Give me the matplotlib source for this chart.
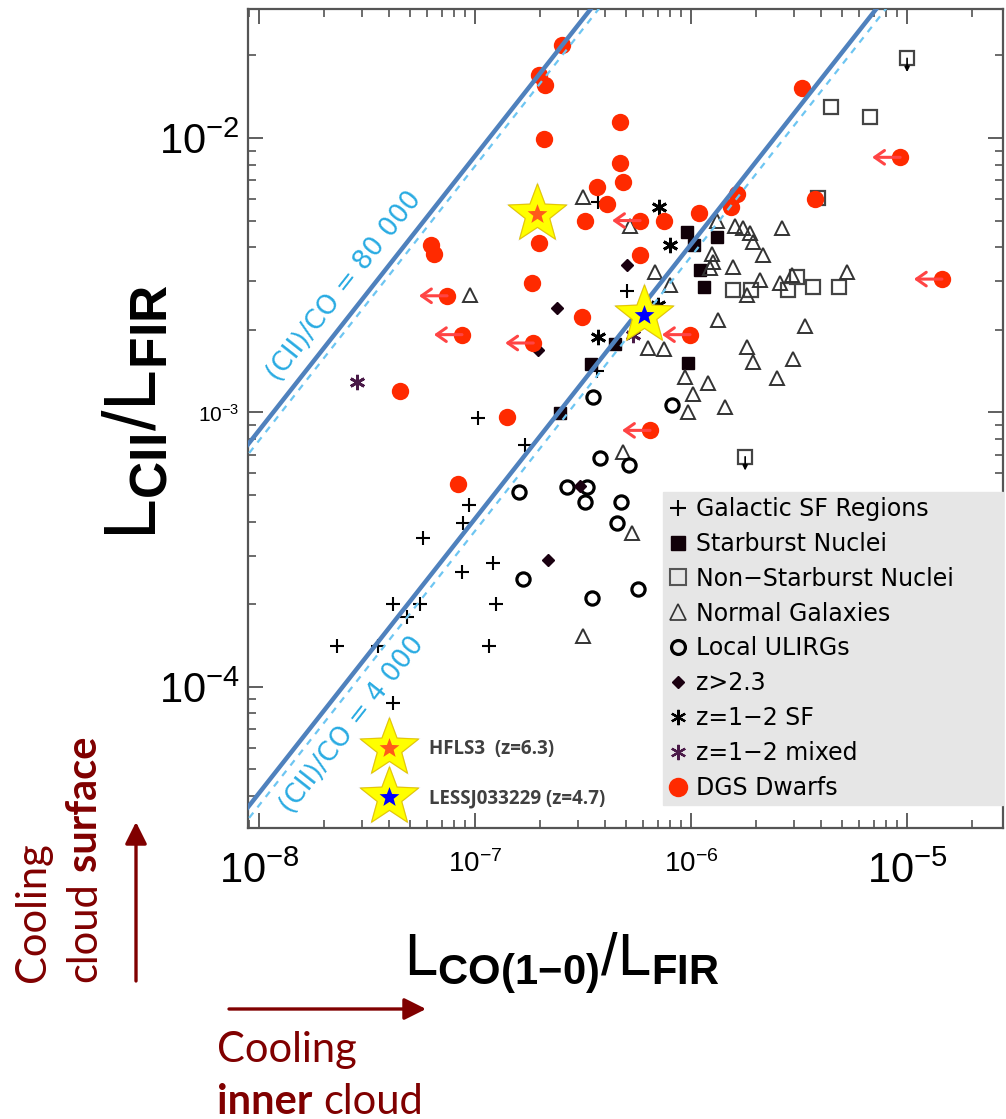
import numpy as np
import matplotlib
matplotlib.use('Agg')
import matplotlib.pyplot as plt
from matplotlib.lines import Line2D
from matplotlib.path import Path
from matplotlib.ticker import FixedLocator, LogLocator, NullFormatter

plt.rcParams['mathtext.fontset'] = 'custom'
plt.rcParams['mathtext.rm'] = 'Liberation Sans'
plt.rcParams['mathtext.bf'] = 'Liberation Sans:bold'
plt.rcParams['mathtext.it'] = 'Liberation Sans:italic'
plt.rcParams['mathtext.sf'] = 'Liberation Sans'

# ---------------- data (L_CO/L_FIR, L_CII/L_FIR) ----------------
sf_x = [1.03e-7, 1.70e-7, 9.38e-8, 8.8e-8, 5.74e-8, 1.21e-7, 8.7e-8, 4.15e-8, 5.56e-8,
        4.84e-8, 1.25e-7, 2.29e-8, 3.54e-8, 1.16e-7, 4.15e-8, 5.05e-7, 3.67e-7, 3.71e-7]
sf_y = [9.55e-4, 7.62e-4, 4.60e-4, 3.96e-4, 3.49e-4, 2.83e-4, 2.62e-4, 2.00e-4, 2.00e-4,
        1.80e-4, 2.00e-4, 1.41e-4, 1.41e-4, 1.41e-4, 8.75e-5, 2.77e-3, 1.41e-3, 5.85e-3]

sb_x = [9.58e-7, 1.03e-6, 1.32e-6, 1.10e-6, 1.15e-6, 9.68e-7, 4.45e-7, 3.44e-7, 2.48e-7]
sb_y = [4.55e-3, 4.07e-3, 4.36e-3, 3.30e-3, 2.86e-3, 1.51e-3, 1.78e-3, 1.50e-3, 9.95e-4]

nsb_x = [4.45e-6, 6.74e-6, 3.87e-6, 1.56e-6, 1.90e-6, 2.81e-6, 3.67e-6, 4.84e-6, 3.10e-6]
nsb_y = [1.30e-2, 1.19e-2, 6.04e-3, 2.79e-3, 2.79e-3, 2.79e-3, 2.86e-3, 2.86e-3, 3.12e-3]
nsb_ul_x = [1.0e-5, 1.78e-6]
nsb_ul_y = [1.95e-2, 6.89e-4]

ng_x = [9.48e-8, 3.16e-7, 5.22e-7, 6.81e-7, 8.0e-7, 1.32e-6, 1.60e-6, 1.74e-6, 1.88e-6,
        1.94e-6, 2.15e-6, 2.64e-6, 1.25e-6, 1.26e-6, 1.22e-6, 1.56e-6, 2.09e-6, 2.58e-6,
        2.94e-6, 5.27e-6, 1.82e-6, 1.33e-6, 3.37e-6, 1.82e-6, 1.94e-6, 2.97e-6, 6.32e-7,
        7.50e-7, 9.38e-7, 1.20e-6, 2.50e-6, 1.02e-6, 9.68e-7, 1.44e-6, 4.84e-7, 5.33e-7,
        3.16e-7]
ng_y = [2.68e-3, 6.10e-3, 4.78e-3, 3.25e-3, 2.91e-3, 4.99e-3, 4.78e-3, 4.70e-3, 4.51e-3,
        4.18e-3, 3.75e-3, 4.70e-3, 3.78e-3, 3.53e-3, 3.36e-3, 3.39e-3, 3.04e-3, 2.96e-3,
        3.17e-3, 3.25e-3, 2.68e-3, 2.17e-3, 2.07e-3, 1.73e-3, 1.53e-3, 1.57e-3, 1.72e-3,
        1.70e-3, 1.35e-3, 1.28e-3, 1.34e-3, 1.17e-3, 1.00e-3, 1.05e-3, 7.18e-4, 3.64e-4,
        1.53e-4]

ulirg_x = [3.52e-7, 3.79e-7, 5.16e-7, 1.60e-7, 2.67e-7, 3.30e-7, 3.23e-7, 4.74e-7, 4.54e-7,
           1.67e-7, 3.48e-7, 5.69e-7, 8.17e-7]
ulirg_y = [1.14e-3, 6.82e-4, 6.44e-4, 5.13e-4, 5.36e-4, 5.36e-4, 4.72e-4, 4.72e-4, 3.96e-4,
           2.47e-4, 2.11e-4, 2.28e-4, 1.06e-3]

hz_x = [5.05e-7, 2.40e-7, 1.96e-7, 2.18e-7, 3.06e-7]
hz_y = [3.44e-3, 2.40e-3, 1.69e-3, 2.90e-4, 5.40e-4]

zsf_x = [7.11e-7, 8.0e-7, 3.71e-7, 7.03e-7]
zsf_y = [5.61e-3, 4.07e-3, 1.88e-3, 2.46e-3]

zmix_x = [2.84e-8, 5.39e-7]
zmix_y = [1.29e-3, 1.92e-3]

dgs_x = [2.53e-7, 1.98e-7, 2.11e-7, 2.09e-7, 4.69e-7, 4.69e-7, 4.84e-7, 3.67e-7, 4.08e-7,
         3.23e-7, 1.98e-7, 1.84e-7, 6.25e-8, 6.46e-8, 3.13e-7, 5.81e-7, 7.50e-7, 1.09e-6,
         1.63e-6, 1.53e-6, 3.27e-6, 3.75e-6, 4.50e-8, 1.41e-7, 8.34e-8]
dgs_y = [2.18e-2, 1.69e-2, 1.56e-2, 9.9e-3, 1.14e-2, 8.1e-3, 6.9e-3, 6.6e-3, 5.75e-3,
         5.0e-3, 4.14e-3, 2.96e-3, 4.07e-3, 3.78e-3, 2.23e-3, 3.75e-3, 5.0e-3, 5.33e-3,
         6.25e-3, 5.6e-3, 1.52e-2, 6.0e-3, 1.2e-3, 9.6e-4, 5.5e-4]
dgs_ul_x = [7.42e-8, 8.7e-8, 1.86e-7, 5.81e-7, 9.89e-7, 6.46e-7, 9.29e-6, 1.45e-5]
dgs_ul_y = [2.66e-3, 1.92e-3, 1.79e-3, 5.0e-3, 1.92e-3, 8.6e-4, 8.5e-3, 3.06e-3]

hfls3_x, hfls3_y = 1.94e-7, 5.28e-3
less_x, less_y = 6.05e-7, 2.27e-3

ratio_solid = [86000, 4100]
ratio_dash = [79000, 3700]
ratio_labels = ['(CII)/CO = 80 000', '(CII)/CO = 4 000']

xticks = [1e-8, 1e-7, 1e-6, 1e-5]
xtick_labels = [r'$10^{-8}$', r'$10^{-7}$', r'$10^{-6}$', r'$10^{-5}$']
xtick_sizes = [30, 20, 20, 30]
yticks = [1e-4, 1e-3, 1e-2]
ytick_labels = [r'$10^{-4}$', r'$10^{-3}$', r'$10^{-2}$']
ytick_sizes = [30, 15, 30]

legend_labels = ['Galactic SF Regions', 'Starburst Nuclei', 'Non\u2212Starburst Nuclei',
                 'Normal Galaxies', 'Local ULIRGs', 'z>2.3', 'z=1\u22122 SF',
                 'z=1\u22122 mixed', 'DGS Dwarfs']

# ---------------- figure ----------------
W, H = 1006, 1119
fig = plt.figure(figsize=(W / 100, H / 100), dpi=100)
ax = fig.add_axes([248 / W, 1 - 828 / H, 755 / W, 819 / H])
ax.set_xscale('log')
ax.set_yscale('log')
ax.set_xlim(8.89e-9, 2.78e-5)
ax.set_ylim(3.06e-5, 2.95e-2)

RED = '#ff2a00'
ULRED = '#ff4444'

ax.plot(sf_x, sf_y, ls='none', marker='+', color='k', ms=10, mew=1.5, zorder=3)
ax.plot(sb_x, sb_y, ls='none', marker='s', color='#100008', ms=9, zorder=3)
ax.plot(nsb_x + nsb_ul_x, nsb_y + nsb_ul_y, ls='none', marker='s', mfc='none',
        mec='#444444', ms=10, mew=1.6, zorder=3)
for x, y in zip(nsb_ul_x, nsb_ul_y):
    ax.annotate('', xy=(x, y / 10 ** 0.05), xytext=(x, y),
                arrowprops=dict(arrowstyle='-|>', color='k', lw=1.2, mutation_scale=7,
                                shrinkA=0, shrinkB=0), zorder=3)
ax.plot(ng_x, ng_y, ls='none', marker='^', mfc='none', mec='#333333', ms=10, mew=1.4, zorder=3)
ax.plot(ulirg_x, ulirg_y, ls='none', marker='o', mfc='none', mec='k', ms=9.5, mew=2.3, zorder=3)
ax.plot(hz_x, hz_y, ls='none', marker='D', color='#1a0010', ms=6, zorder=3)
ax.plot(zsf_x, zsf_y, ls='none', marker=(6, 2, 0), color='k', ms=11, mew=2, zorder=3)
ax.plot(zmix_x, zmix_y, ls='none', marker=(6, 2, 0), color='#4a1a48', ms=11, mew=2, zorder=3)
ax.plot(dgs_x, dgs_y, ls='none', marker='o', color=RED, ms=12.5, mew=0, zorder=4)
ax.plot(dgs_ul_x, dgs_ul_y, ls='none', marker='o', color=RED, ms=12.5, mew=0, zorder=4)
for x, y in zip(dgs_ul_x, dgs_ul_y):
    ax.annotate('', xy=(x / 10 ** 0.13, y), xytext=(x, y),
                arrowprops=dict(arrowstyle='->,head_length=0.5,head_width=0.35', color=ULRED,
                                lw=2.2, shrinkA=0, shrinkB=0, mutation_scale=14), zorder=4)

# ratio lines
xl = np.array([1e-9, 1e-4])
for rs, rd in zip(ratio_solid, ratio_dash):
    ax.plot(xl, rd * xl, ls=(0, (3, 3)), color='#6ec6f2', lw=1.6, zorder=5)
    ax.plot(xl, rs * xl, ls='-', color='#4f81bd', lw=3.2, zorder=5)

ang = np.degrees(np.arctan(274.5 / 216))
ax.text((345 - 248) / 755, (828 - 286) / 819, ratio_labels[0], transform=ax.transAxes,
        rotation=ang, rotation_mode='anchor', ha='center', va='center',
        fontsize=19, color='#29abe2', family='DejaVu Sans', zorder=6)
ax.text((352 - 248) / 755, (828 - 725) / 819, ratio_labels[1], transform=ax.transAxes,
        rotation=ang, rotation_mode='anchor', ha='center', va='center',
        fontsize=19, color='#29abe2', family='DejaVu Sans', zorder=6)

# fatter 5-point star (PowerPoint-like)
ang5 = np.pi / 2 + np.arange(10) * np.pi / 5
rad5 = np.where(np.arange(10) % 2 == 0, 1.0, 0.42)
verts = np.column_stack([rad5 * np.cos(ang5), rad5 * np.sin(ang5)])
verts = np.vstack([verts, verts[:1]])
STAR = Path(verts, [Path.MOVETO] + [Path.LINETO] * 9 + [Path.CLOSEPOLY])

def star(axx, x, y, inner, transform=None):
    kw = {} if transform is None else {'transform': transform}
    axx.plot([x], [y], marker=STAR, ms=47, color='#9a9a9a', alpha=0.35, mew=0, zorder=7,
             ls='none', **kw)
    axx.plot([x], [y], marker=STAR, ms=44, mfc='#ffff00', mec='#e6c800', mew=0.8, zorder=8,
             ls='none', **kw)
    axx.plot([x], [y], marker=STAR, ms=15, color=inner, mew=0, zorder=9, ls='none', **kw)

star(ax, hfls3_x, hfls3_y, '#ff5a1a')
star(ax, less_x, less_y, '#0000ff')
star(ax, (389 - 248) / 755, (828 - 748) / 819, '#ff5a1a', transform=ax.transAxes)
star(ax, (389 - 248) / 755, (828 - 797) / 819, '#0000ff', transform=ax.transAxes)
ax.text((429 - 248) / 755, (828 - 749) / 819, 'HFLS3  (z=6.3)', transform=ax.transAxes,
        ha='left', va='center', fontsize=13.5, fontweight='bold', family='Open Sans',
        color='#404040', zorder=9)
ax.text((429 - 248) / 755, (828 - 798) / 819, 'LESSJ033229 (z=4.7)', transform=ax.transAxes,
        ha='left', va='center', fontsize=13.5, fontweight='bold', family='Open Sans',
        color='#404040', zorder=9)

# ticks
ax.xaxis.set_major_locator(FixedLocator(xticks))
ax.yaxis.set_major_locator(FixedLocator(yticks))
ax.xaxis.set_minor_locator(LogLocator(base=10, subs=np.arange(2, 10), numticks=20))
ax.yaxis.set_minor_locator(LogLocator(base=10, subs=np.arange(2, 10), numticks=20))
ax.xaxis.set_minor_formatter(NullFormatter())
ax.yaxis.set_minor_formatter(NullFormatter())
ax.set_xticklabels(xtick_labels)
ax.set_yticklabels(ytick_labels)
for lab, s in zip(ax.get_xticklabels(), xtick_sizes):
    lab.set_fontsize(s)
for lab, s in zip(ax.get_yticklabels(), ytick_sizes):
    lab.set_fontsize(s)
ax.tick_params(which='both', direction='in', top=True, right=True, color='#444444')
ax.tick_params(which='major', length=11, width=1.2)
ax.tick_params(which='minor', length=5.5, width=1.1)
ax.tick_params(axis='x', which='major', pad=16)
ax.tick_params(axis='y', which='major', pad=6)
for sp in ax.spines.values():
    sp.set_color('#555555')
    sp.set_linewidth(1.6)

ax.set_xlabel(r'$\mathrm{L}_{\mathbf{CO(1{-}0)}}/\mathrm{L}_{\mathbf{FIR}}$', fontsize=43)
ax.xaxis.set_label_coords((562 - 248) / 755, (828 - 930) / 819)
ax.set_ylabel(r'$\mathrm{L}_{\mathbf{CII}}/\mathrm{L}_{\mathbf{FIR}}$', fontsize=53)
ax.yaxis.set_label_coords((172 - 248) / 755, (828 - 412) / 819)

# legend
handles = [
    Line2D([], [], ls='none', marker='+', color='k', ms=12, mew=1.5),
    Line2D([], [], ls='none', marker='s', color='#100008', ms=10),
    Line2D([], [], ls='none', marker='s', mfc='none', mec='#555555', ms=11, mew=1.5),
    Line2D([], [], ls='none', marker='^', mfc='none', mec='#333333', ms=11, mew=1.2),
    Line2D([], [], ls='none', marker='o', mfc='none', mec='k', ms=10, mew=2.3),
    Line2D([], [], ls='none', marker='D', color='#1a0010', ms=6),
    Line2D([], [], ls='none', marker=(6, 2, 0), color='k', ms=11, mew=1.6),
    Line2D([], [], ls='none', marker=(6, 2, 0), color='#4a1a48', ms=11, mew=1.6),
    Line2D([], [], ls='none', marker='o', color=RED, ms=14, mew=0),
]
leg = ax.legend(handles, legend_labels, loc='upper left',
                bbox_to_anchor=(0.5497, 0.02, 0.4503, 0.39), mode='expand',
                prop={'family': 'DejaVu Sans', 'size': 17}, frameon=True, fancybox=False,
                facecolor='#e6e6e6', edgecolor='#e6e6e6', framealpha=1,
                handlelength=0.9, handletextpad=0.3, borderpad=0.2, labelspacing=0.46,
                borderaxespad=0)
leg.set_zorder(10)

# outside annotations
DR = '#800000'
def fx(px):
    return px / W
def fy(py):
    return 1 - py / H

OFS = 30
fig.text(fx(33), fy(982), 'Cooling', rotation=90, rotation_mode='anchor', ha='left',
         va='center', fontsize=OFS, color=DR, family='Lato')
t_cloud = fig.text(fx(84), fy(982), 'cloud', rotation=90, rotation_mode='anchor', ha='left',
                   va='center', fontsize=OFS, color=DR, family='Lato')
fig.text(fx(217), fy(1062), 'Cooling', ha='left', va='baseline', fontsize=OFS, color=DR,
         family='Lato')
t_inner = fig.text(fx(217), fy(1114), 'inner', ha='left', va='baseline', fontsize=OFS,
                   color=DR, family='Lato', fontweight='bold')
fig.canvas.draw()
r = fig.canvas.get_renderer()
bb_c = t_cloud.get_window_extent(r)
bb_i = t_inner.get_window_extent(r)
fig.text(fx(84), (bb_c.y1 + 11) / H, 'surface', rotation=90, rotation_mode='anchor',
         ha='left', va='center', fontsize=OFS, color=DR, family='Lato', fontweight='bold')
fig.text((bb_i.x1 + 11) / W, fy(1114), 'cloud', ha='left', va='baseline', fontsize=OFS,
         color=DR, family='Lato')

arrow_kw = dict(arrowstyle='-|>,head_length=0.6,head_width=0.3', color=DR, lw=2.4,
                mutation_scale=22, shrinkA=0, shrinkB=0)
fig.add_artist(matplotlib.patches.FancyArrowPatch((fx(136), fy(981)), (fx(136), fy(822)),
                                                  transform=fig.transFigure, **arrow_kw))
fig.add_artist(matplotlib.patches.FancyArrowPatch((fx(229), fy(1009)), (fx(426), fy(1009)),
                                                  transform=fig.transFigure, **arrow_kw))

fig.savefig('out.png', dpi=100)
